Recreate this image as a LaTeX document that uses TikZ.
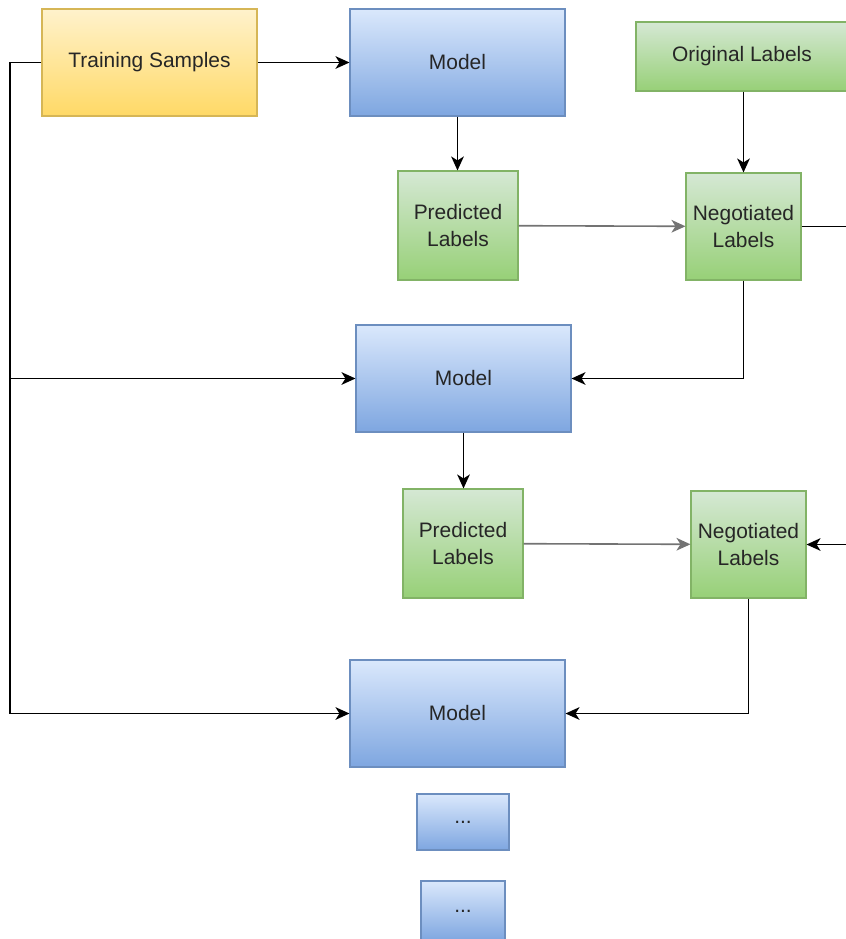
\documentclass[tikz,border=0pt]{standalone}
\usepackage{fontspec}
\setmainfont{Liberation Sans}
\usetikzlibrary{arrows.meta}
\definecolor{bluetop}{HTML}{DAE8FC}
\definecolor{bluebot}{HTML}{7EA6E0}
\definecolor{blueline}{HTML}{6C8EBF}
\definecolor{greentop}{HTML}{D5E8D4}
\definecolor{greenbot}{HTML}{97D077}
\definecolor{greenline}{HTML}{82B366}
\definecolor{yellowtop}{HTML}{FFF2CC}
\definecolor{yellowbot}{HTML}{FFD966}
\definecolor{yellowline}{HTML}{D6B656}
\tikzset{
  box/.style={draw, line width=0.8pt, inner sep=0pt, align=center,
    text=black!85, font=\fontsize{15.7}{20.25}\selectfont},
  samplebox/.style={box, draw=yellowline, top color=yellowtop, bottom color=yellowbot},
  modelbox/.style={box, draw=blueline, top color=bluetop, bottom color=bluebot,
    minimum width=161.25pt, minimum height=80.25pt},
  labelbox/.style={box, draw=greenline, top color=greentop, bottom color=greenbot},
  dotsbox/.style={box, draw=blueline, top color=bluetop, bottom color=bluebot},
  arr/.style={-{Stealth[length=10.5pt,width=9.5pt,inset=3pt]}, line width=1.2pt},
  garr/.style={arr, draw=black!55},
  plain/.style={line width=1.2pt}
}
\begin{document}
\begin{tikzpicture}[x=0.75pt, y=-0.75pt]
  \useasboundingbox (0, 0) rectangle (846, 939) ;
  \clip (0, 0) rectangle (846, 939) ;
  % first round
  \node[samplebox, minimum width=161.25pt, minimum height=80.25pt] (train) at (149.5, 62.5) {Training Samples} ;
  \node[modelbox] (model1) at (457.5, 62.5) {Model} ;
  \node[labelbox, minimum width=159pt, minimum height=51.75pt] (orig) at (742, 56.5) {Original Labels} ;
  \node[labelbox, minimum width=90pt, minimum height=81.75pt] (pred1) at (458, 225.5) {Predicted\\Labels} ;
  \node[labelbox, minimum width=86.25pt, minimum height=80.25pt] (neg1) at (743.5, 226.5) {Negotiated\\Labels} ;
  % second round
  \node[modelbox] (model2) at (463.5, 378.5) {Model} ;
  \node[labelbox, minimum width=90pt, minimum height=81.75pt] (pred2) at (463, 543.5) {Predicted\\Labels} ;
  \node[labelbox, minimum width=86.25pt, minimum height=80.25pt] (neg2) at (748.5, 544.5) {Negotiated\\Labels} ;
  % third round
  \node[modelbox] (model3) at (457.5, 713.5) {Model} ;
  \node[dotsbox, minimum width=69pt, minimum height=42pt] (dots1) at (463, 822) {...} ;
  \node[dotsbox, minimum width=63pt, minimum height=45pt] (dots2) at (463, 911) {...} ;
  % free ends
  \coordinate (bus) at (10, 713.5) ;
  \coordinate (out1) at (846, 226.5) ;
  \coordinate (in2) at (846, 544.5) ;
  % connectors
  \draw[arr] (train) -- (model1) ;
  \draw[arr] (train.west) -| (bus) -- (model3.west) ;
  \draw[arr] (bus |- model2.west) -- (model2.west) ;
  \draw[arr] (model1) -- (model1 |- pred1.north) ;
  \draw[garr] (pred1) -- (neg1) ;
  \draw[arr] (neg1.north |- orig.south) -- (neg1.north) ;
  \draw[plain] (neg1.east) -- (out1) ;
  \draw[arr] (neg1.south) |- (model2.east) ;
  \draw[arr] (model2) -- (model2 |- pred2.north) ;
  \draw[garr] (pred2) -- (neg2) ;
  \draw[arr] (in2) -- (neg2.east) ;
  \draw[arr] (neg2.south) |- (model3.east) ;
\end{tikzpicture}
\end{document}
